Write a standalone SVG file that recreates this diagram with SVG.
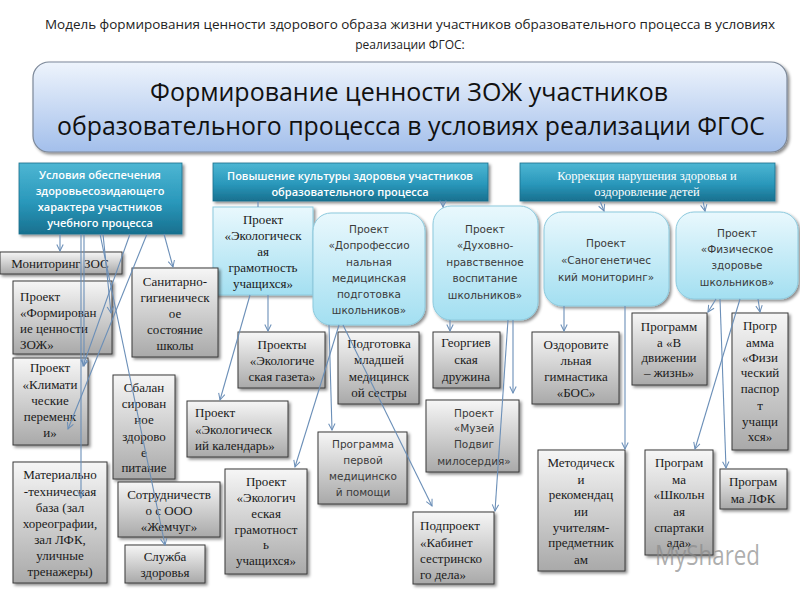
<svg xmlns="http://www.w3.org/2000/svg" width="800" height="600" viewBox="0 0 800 600">
<defs>
<linearGradient id="gMain" x1="0" y1="0" x2="0" y2="1"><stop offset="0" stop-color="#eef4fc"/><stop offset="1" stop-color="#a3bfeb"/></linearGradient>
<linearGradient id="gHead" x1="0" y1="0" x2="0" y2="1"><stop offset="0" stop-color="#4db6d3"/><stop offset="0.55" stop-color="#2a98bb"/><stop offset="1" stop-color="#18708f"/></linearGradient>
<linearGradient id="gBlue" x1="0" y1="0" x2="0" y2="1"><stop offset="0" stop-color="#e9f8fd"/><stop offset="1" stop-color="#a3dff1"/></linearGradient>
<linearGradient id="gGray" x1="0" y1="0" x2="0" y2="1"><stop offset="0" stop-color="#f6f6f6"/><stop offset="1" stop-color="#a9a9a9"/></linearGradient>
<filter id="sh" x="-20%" y="-20%" width="150%" height="150%"><feDropShadow dx="2" dy="2" stdDeviation="1.5" flood-color="#000" flood-opacity="0.45"/></filter>
<marker id="ar" viewBox="0 0 10 10" refX="9" refY="5" markerWidth="8" markerHeight="8" markerUnits="userSpaceOnUse" orient="auto"><path d="M1,1 L9,5 L1,9" fill="none" stroke="#6b8fb8" stroke-width="1.3"/></marker>
</defs>
<style>
.main{fill:url(#gMain);stroke:#7c8899;stroke-width:1.2;filter:url(#sh)}
.head{fill:url(#gHead);stroke:#1a6f8c;stroke-width:0.8;filter:url(#sh)}
.blue{fill:url(#gBlue);stroke:#8cc9dd;stroke-width:1;filter:url(#sh)}
.gray{fill:url(#gGray);stroke:#3a3a3a;stroke-width:1;filter:url(#sh)}
.t1{font-family:"Open Sans","Liberation Sans",sans-serif;font-size:12px;fill:#222}
.tm{font-family:"Open Sans","Liberation Sans",sans-serif;font-size:25px;fill:#111;text-anchor:middle}
.th{font-family:"Open Sans","Liberation Sans",sans-serif;font-size:11px;font-weight:600;fill:#fff;text-anchor:middle}
.ths{font-family:"Liberation Serif",serif;font-size:12.5px;fill:#fff;text-anchor:middle}
.s{font-family:"Liberation Serif",serif;font-size:13px;fill:#1a1a1a;text-anchor:middle}
.sl{font-family:"Liberation Serif",serif;font-size:13px;fill:#1a1a1a}
.ss{font-family:"DejaVu Sans",sans-serif;font-size:10.5px;fill:#3a3a3a;text-anchor:middle}
.c{fill:none;stroke:#6b8fb8;stroke-width:1.1;marker-end:url(#ar)}
.cn{fill:none;stroke:#6b8fb8;stroke-width:1.1}
</style>
<rect width="800" height="600" fill="#fff"/>
<g id="title">
<text class="t1" x="410" y="29" text-anchor="middle" textLength="730" lengthAdjust="spacingAndGlyphs">Модель формирования ценности здорового образа жизни участников образовательного процесса в условиях</text>
<text class="t1" x="410" y="49" text-anchor="middle">реализации ФГОС:</text>
</g>
<g id="main">
<rect class="main" x="33" y="62" width="754" height="90" rx="16"/>
<text class="tm" x="409" y="101" textLength="518" lengthAdjust="spacingAndGlyphs">Формирование ценности ЗОЖ участников</text>
<text class="tm" x="411" y="135" textLength="708" lengthAdjust="spacingAndGlyphs">образовательного процесса в условиях реализации ФГОС</text>
</g>
<g id="h1">
<rect class="head" x="19" y="163" width="163" height="71"/>
<text class="th" x="100" y="179">Условия обеспечения</text>
<text class="th" x="100" y="195">здоровьесозидающего</text>
<text class="th" x="100" y="211">характера участников</text>
<text class="th" x="100" y="227">учебного процесса</text>
</g>
<g id="h2">
<rect class="head" x="213" y="163" width="275" height="38"/>
<text class="th" x="350" y="180">Повышение культуры здоровья участников</text>
<text class="th" x="350" y="196">образовательного процесса</text>
</g>
<g id="h3">
<rect class="head" x="520" y="163" width="255" height="38"/>
<text class="ths" x="647" y="180">Коррекция нарушения здоровья и</text>
<text class="ths" x="647" y="196">оздоровление детей</text>
</g>
<g id="pA">
<rect class="blue" x="213" y="207" width="100" height="88"/>
<text class="s" x="263" y="224">Проект</text>
<text class="s" x="263" y="240">«Экологическ</text>
<text class="s" x="263" y="256">ая</text>
<text class="s" x="263" y="272">грамотность</text>
<text class="s" x="263" y="288">учащихся»</text>
</g>
<g id="pB">
<rect class="blue" x="313" y="213" width="112" height="112" rx="18"/>
<text class="ss" x="369" y="233">Проект</text>
<text class="ss" x="369" y="249">«Допрофессио</text>
<text class="ss" x="369" y="266">нальная</text>
<text class="ss" x="369" y="282">медицинская</text>
<text class="ss" x="369" y="298">подготовка</text>
<text class="ss" x="369" y="314">школьников»</text>
</g>
<g id="pC">
<rect class="blue" x="433" y="206" width="105" height="114" rx="18"/>
<text class="ss" x="485" y="233">Проект</text>
<text class="ss" x="485" y="249">«Духовно-</text>
<text class="ss" x="485" y="266">нравственное</text>
<text class="ss" x="485" y="282">воспитание</text>
<text class="ss" x="485" y="299">школьников»</text>
</g>
<g id="pD">
<rect class="blue" x="544" y="212" width="125" height="94" rx="18"/>
<text class="ss" x="606" y="247">Проект</text>
<text class="ss" x="606" y="264">«Саногенетичес</text>
<text class="ss" x="606" y="281">кий мониторинг»</text>
</g>
<g id="pE">
<rect class="blue" x="676" y="212" width="122" height="87" rx="18"/>
<text class="ss" x="737" y="237">Проект</text>
<text class="ss" x="737" y="253">«Физическое</text>
<text class="ss" x="737" y="269">здоровье</text>
<text class="ss" x="737" y="286">школьников»</text>
</g>
<g id="n1">
<rect class="gray" x="0" y="252" width="122" height="22"/>
<text class="s" x="60" y="268">Мониторинг ЗОС</text>
</g>
<g id="n2">
<rect class="gray" x="13" y="281" width="99" height="73"/>
<text class="sl" x="20" y="301">Проект</text>
<text class="sl" x="20" y="317">«Формирован</text>
<text class="sl" x="20" y="333">ие ценности</text>
<text class="sl" x="20" y="349">ЗОЖ»</text>
</g>
<g id="n3">
<rect class="gray" x="132" y="268" width="86" height="89"/>
<text class="s" x="175" y="286">Санитарно-</text>
<text class="s" x="175" y="302">гигиеническ</text>
<text class="s" x="175" y="318">ое</text>
<text class="s" x="175" y="334">состояние</text>
<text class="s" x="175" y="350">школы</text>
</g>
<g id="n4">
<rect class="gray" x="13" y="358" width="75" height="87"/>
<text class="s" x="50" y="372">Проект</text>
<text class="s" x="50" y="389">«Климати</text>
<text class="s" x="50" y="405">ческие</text>
<text class="s" x="50" y="421">переменк</text>
<text class="s" x="50" y="437">и»</text>
</g>
<g id="n5">
<rect class="gray" x="113" y="375" width="62" height="104"/>
<text class="s" x="144" y="392">Сбалан</text>
<text class="s" x="144" y="408">сирован</text>
<text class="s" x="144" y="424">ное</text>
<text class="s" x="144" y="441">здорово</text>
<text class="s" x="144" y="457">е</text>
<text class="s" x="144" y="472">питание</text>
</g>
<g id="n6">
<rect class="gray" x="13" y="462" width="94" height="121"/>
<text class="s" x="60" y="479">Материально</text>
<text class="s" x="60" y="496">-техническая</text>
<text class="s" x="60" y="512">база (зал</text>
<text class="s" x="60" y="528">хореографии,</text>
<text class="s" x="60" y="544">зал ЛФК,</text>
<text class="s" x="60" y="560">уличные</text>
<text class="s" x="60" y="576">тренажеры)</text>
</g>
<g id="n7">
<rect class="gray" x="118" y="482" width="102" height="55"/>
<text class="s" x="169" y="499">Сотрудничеств</text>
<text class="s" x="169" y="515">о с ООО</text>
<text class="s" x="169" y="531">«Жемчуг»</text>
</g>
<g id="n8">
<rect class="gray" x="125" y="545" width="80" height="38"/>
<text class="s" x="165" y="561">Служба</text>
<text class="s" x="165" y="577">здоровья</text>
</g>
<g id="n9">
<rect class="gray" x="238" y="332" width="87" height="56"/>
<text class="s" x="282" y="349">Проекты</text>
<text class="s" x="282" y="365">«Экологиче</text>
<text class="s" x="282" y="381">ская газета»</text>
</g>
<g id="n10">
<rect class="gray" x="338" y="332" width="81" height="72"/>
<text class="s" x="379" y="348">Подготовка</text>
<text class="s" x="379" y="364">младшей</text>
<text class="s" x="379" y="381">медицинск</text>
<text class="s" x="379" y="397">ой сестры</text>
</g>
<g id="n11">
<rect class="gray" x="187" y="401" width="101" height="56"/>
<text class="sl" x="195" y="417">Проект</text>
<text class="sl" x="195" y="434">«Экологическ</text>
<text class="sl" x="195" y="450">ий календарь»</text>
</g>
<g id="n12">
<rect class="gray" x="318" y="432" width="89" height="72"/>
<text class="ss" x="363" y="448">Программа</text>
<text class="ss" x="363" y="464">первой</text>
<text class="ss" x="363" y="480">медицинско</text>
<text class="ss" x="363" y="496">й помощи</text>
</g>
<g id="n13">
<rect class="gray" x="225" y="469" width="82" height="105"/>
<text class="s" x="266" y="486">Проект</text>
<text class="s" x="266" y="502">«Экологич</text>
<text class="s" x="266" y="518">еская</text>
<text class="s" x="266" y="534">грамотност</text>
<text class="s" x="266" y="549">ь</text>
<text class="s" x="266" y="565">учащихся»</text>
</g>
<g id="n14">
<rect class="gray" x="413" y="512" width="81" height="72"/>
<text class="sl" x="420" y="530">Подпроект</text>
<text class="sl" x="420" y="547">«Кабинет</text>
<text class="sl" x="420" y="563">сестринско</text>
<text class="sl" x="420" y="579">го дела»</text>
</g>
<g id="n15">
<rect class="gray" x="433" y="332" width="67" height="56"/>
<text class="s" x="466" y="347">Георгиев</text>
<text class="s" x="466" y="364">ская</text>
<text class="s" x="466" y="381">дружина</text>
</g>
<g id="n16">
<rect class="gray" x="426" y="400" width="93" height="72"/>
<text class="ss" x="474" y="417">Проект</text>
<text class="ss" x="474" y="432">«Музей</text>
<text class="ss" x="474" y="448">Подвиг</text>
<text class="ss" x="474" y="465">милосердия»</text>
</g>
<g id="n17">
<rect class="gray" x="532" y="332" width="87" height="72"/>
<text class="s" x="576" y="349">Оздоровите</text>
<text class="s" x="576" y="365">льная</text>
<text class="s" x="576" y="381">гимнастика</text>
<text class="s" x="576" y="397">«БОС»</text>
</g>
<g id="n18">
<rect class="gray" x="632" y="313" width="75" height="72"/>
<text class="s" x="669" y="331">Программ</text>
<text class="s" x="669" y="347">а «В</text>
<text class="s" x="669" y="362">движении</text>
<text class="s" x="669" y="377">– жизнь»</text>
</g>
<g id="n19">
<rect class="gray" x="732" y="313" width="56" height="137"/>
<text class="s" x="760" y="330">Прогр</text>
<text class="s" x="760" y="347">амма</text>
<text class="s" x="760" y="362">«Физи</text>
<text class="s" x="760" y="377">ческий</text>
<text class="s" x="760" y="393">паспор</text>
<text class="s" x="760" y="410">т</text>
<text class="s" x="760" y="426">учащи</text>
<text class="s" x="760" y="441">хся»</text>
</g>
<g id="n20">
<rect class="gray" x="538" y="450" width="87" height="121"/>
<text class="s" x="581" y="467">Методическ</text>
<text class="s" x="581" y="484">и</text>
<text class="s" x="581" y="499">рекомендац</text>
<text class="s" x="581" y="516">ии</text>
<text class="s" x="581" y="532">учителям-</text>
<text class="s" x="581" y="547">предметник</text>
<text class="s" x="581" y="564">ам</text>
</g>
<g id="n21">
<rect class="gray" x="645" y="450" width="68" height="105"/>
<text class="s" x="679" y="467">Програм</text>
<text class="s" x="679" y="484">ма</text>
<text class="s" x="679" y="499">«Школьн</text>
<text class="s" x="679" y="516">ая</text>
<text class="s" x="679" y="532">спартаки</text>
<text class="s" x="679" y="547">ада»</text>
</g>
<g id="n22">
<rect class="gray" x="720" y="469" width="67" height="40"/>
<text class="s" x="753" y="486">Програм</text>
<text class="s" x="753" y="503">ма ЛФК</text>
</g>
<g id="connectors">
<path class="c" d="M60,234 L60,251"/>
<path class="c" d="M164,234 L173,267"/>
<path class="c" d="M81,234 L81,498"/>
<path class="c" d="M84,234 L84,366"/>
<path class="c" d="M130,234 L83,366"/>
<path class="c" d="M147,234 L68,429"/>
<path class="c" d="M100,234 L165,545"/>
<path class="c" d="M103,234 L111,313"/>
<path class="cn" d="M258,201 L258,207"/>
<path class="c" d="M268,295 L268,331"/>
<path class="c" d="M250,295 L220,400"/>
<path class="c" d="M329,325 L332,430"/>
<path class="c" d="M339,325 L295,467"/>
<path class="c" d="M343,325 L432,506"/>
<path class="c" d="M443,201 L443,207"/>
<path class="c" d="M450,320 L450,331"/>
<path class="c" d="M513,320 L513,393"/>
<path class="c" d="M508,320 L495,511"/>
<path class="c" d="M600,201 L604,211"/>
<path class="c" d="M703,201 L705,211"/>
<path class="c" d="M564,306 L564,331"/>
<path class="c" d="M625,306 L625,449"/>
<path class="c" d="M716,299 L708,312"/>
<path class="c" d="M758,299 L760,312"/>
<path class="c" d="M740,299 L695,449"/>
<path class="c" d="M720,299 L726,468"/>
</g>
<text x="655" y="565" font-family="Open Sans, Liberation Sans, sans-serif" font-size="27" fill="#8a8a8a" fill-opacity="0.7" textLength="105" lengthAdjust="spacingAndGlyphs">MyShared</text>
</svg>
